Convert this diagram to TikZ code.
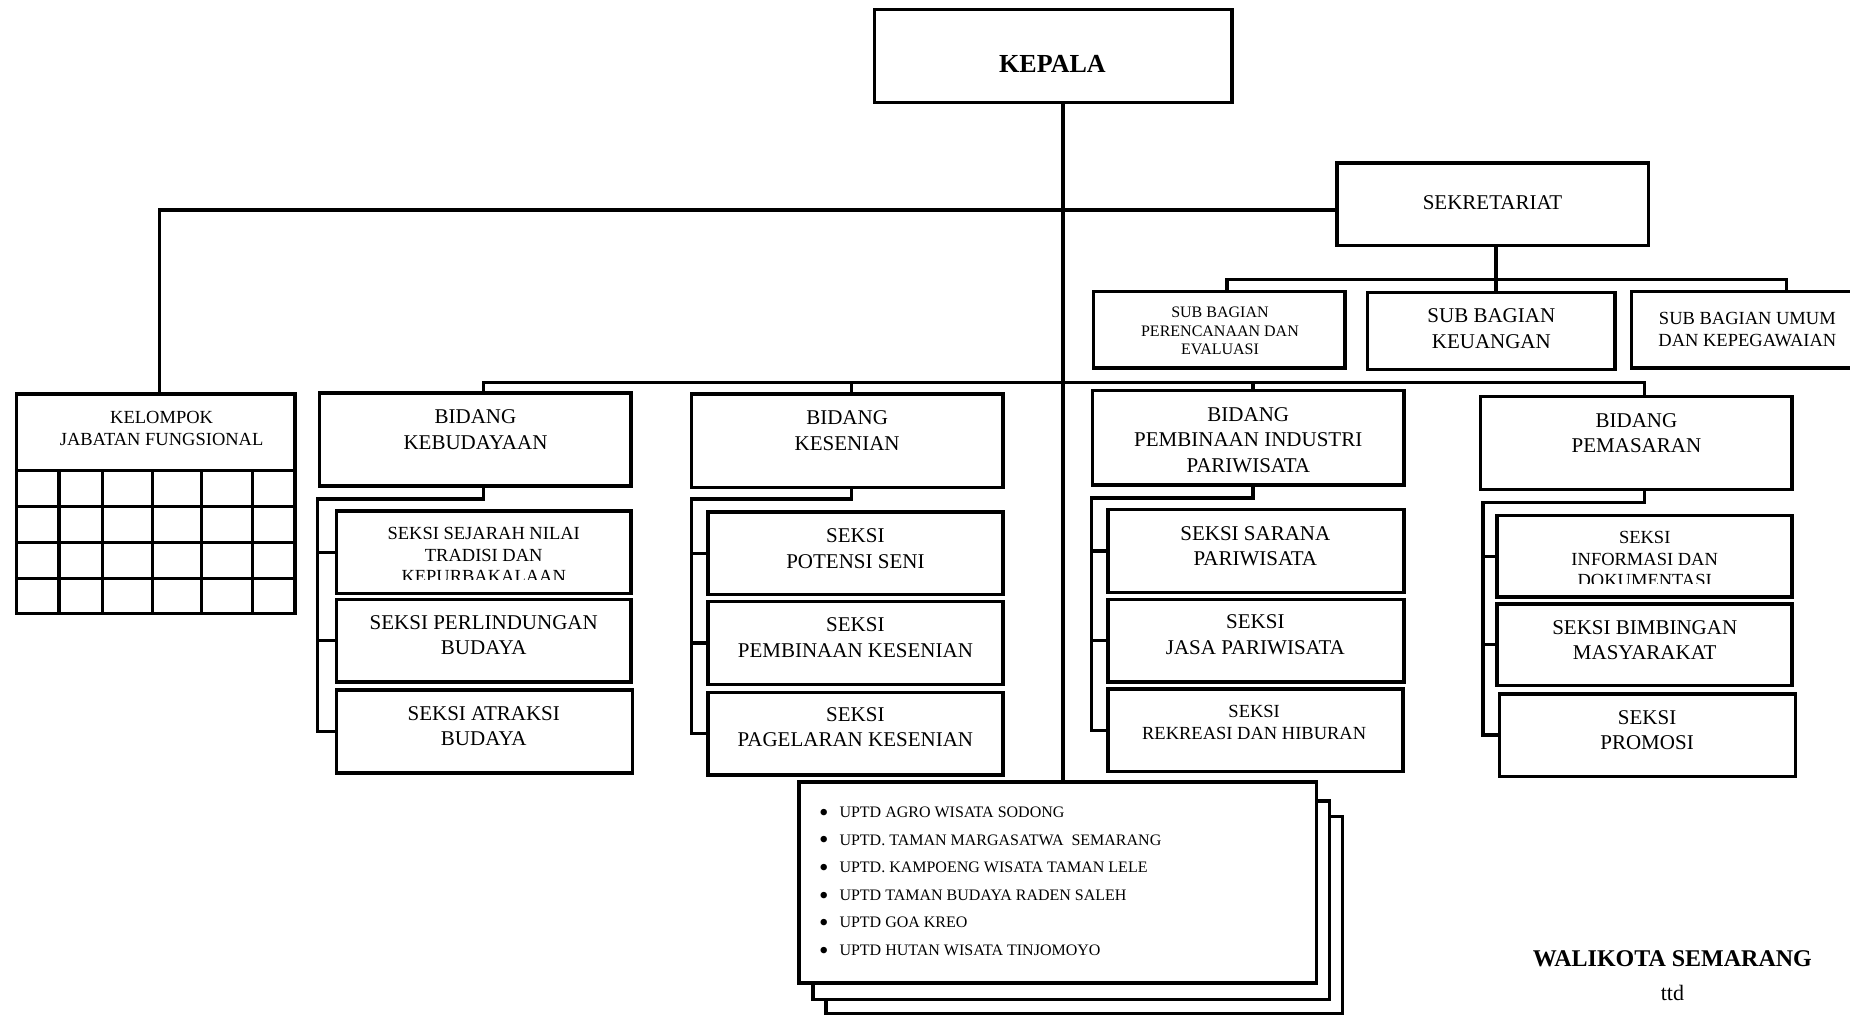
\documentclass[tikz,border=0pt]{standalone}
\usepackage{fontspec}
\setmainfont{Liberation Serif}
\usetikzlibrary{fit}
\newcommand{\ubul}{\makebox[7.4pt][c]{\raisebox{-3.7pt}{\fontsize{27}{0}\selectfont\textbullet}}\hspace{11.9pt}}
\begin{document}
\begin{tikzpicture}[x=1.1798pt,y=-1.1798pt,
  box/.style={draw, line width=3.5pt, inner sep=0pt, fill=white},
  conn/.style={draw, line width=3.2pt, line join=miter},
  gridline/.style={draw, line width=3.2pt},
  tA/.style={inner sep=0pt, align=center, font=\fontsize{21}{25.5}\selectfont},
  tB/.style={inner sep=0pt, align=center, font=\fontsize{18.5}{21.5}\selectfont},
  tC/.style={inner sep=0pt, align=center, font=\fontsize{16}{18.3}\selectfont},
  tD/.style={inner sep=0pt, align=center, font=\fontsize{18.5}{22.4}\selectfont},
]
\useasboundingbox[fill=white] (0,0) rectangle (1568,861);

% ---------- boxes ----------
\node[box, fit={(741,8) (1044,87)}] (kepala) {};
\node[box, fit={(1133,138) (1397,208)}] (sek) {};
\node[box, fit={(927,247) (1140,312)}] (sb1) {};
\node[box, fit={(1159,248) (1369,313)}] (sb2) {};
\node[box, fit={(1383,247) (1574,312)}] (sb3) {};
\node[box, fit={(14,334) (250,520)}] (kel) {};

\node[box, fit={(271,333) (535,412)}] (bk) {};
\node[box, fit={(586,334) (850,413)}] (bks) {};
\node[box, fit={(926,331) (1190,411)}] (bp) {};
\node[box, fit={(1255,336) (1519,415)}] (bm) {};

\node[box, fit={(285,433) (535,503)}] (s11) {};
\node[box, fit={(285,508) (535,578)}] (s12) {};
\node[box, fit={(285,585) (536,655)}] (s13) {};
\node[box, fit={(600,434) (850,504)}] (s21) {};
\node[box, fit={(600,510) (850,580)}] (s22) {};
\node[box, fit={(600,587) (850,657)}] (s23) {};
\node[box, fit={(939,432) (1190,502)}] (s31) {};
\node[box, fit={(939,508) (1190,578)}] (s32) {};
\node[box, fit={(939,584) (1189,654)}] (s33) {};
\node[box, fit={(1269,437) (1519,506)}] (s41) {};
\node[box, fit={(1269,512) (1519,581)}] (s42) {};
\node[box, fit={(1271,588) (1522,658)}] (s43) {};

\node[box, fit={(700,692) (1138,859)}] (uptd3) {};
\node[box, fit={(689,679) (1127,847)}] (uptd2) {};
\node[box, fit={(677,663) (1116,833)}] (uptd) {};

% ---------- grid of KELOMPOK ----------
\foreach \gx in {50,87,129,171,214} \draw[gridline] (\gx,399) -- (kel.south -| \gx,0);
\foreach \gy in {399,429,460,490} \draw[gridline] (kel.west |- 0,\gy) -- (kel.east |- 0,\gy);

% ---------- coordinates ----------
\coordinate (trunk) at (901,0);
\coordinate (hl) at (135,178);
\coordinate (sekx) at (1268,237);
\coordinate (sbl) at (1040,237);
\coordinate (sbr) at (1514,237);
\coordinate (bl) at (410,324);
\coordinate (br) at (1394,324);
\coordinate (d2) at (722,324);
\coordinate (d3) at (1062,324);
\coordinate (k1) at (269,423);
\coordinate (k2) at (586,423);
\coordinate (k3) at (925,422);
\coordinate (k4) at (1257,426);

% ---------- connectors ----------
\draw[conn] (kepala.south -| trunk) -- (uptd.north -| trunk);
\draw[conn] (kel.north -| hl) -- (hl) -- (sek.west |- hl);
\draw[conn] (sek.south -| sekx) -- (sekx);
\draw[conn] (sb1.north -| sbl) -- (sbl) -- (sbr) -- (sb3.north -| sbr);
\draw[conn] (sekx) -- (sb2.north -| sekx);
\draw[conn] (bk.north -| bl) -- (bl) -- (br) -- (bm.north -| br);
\draw[conn] (d2) -- (bks.north -| d2);
\draw[conn] (d3) -- (bp.north -| d3);

\draw[conn] (bk.south -| bl) |- (k1) |- (s13.west);
\draw[conn] (k1 |- s11.west) -- (s11.west);
\draw[conn] (k1 |- s12.west) -- (s12.west);

\draw[conn] (bks.south -| d2) |- (k2) |- (s23.west);
\draw[conn] (k2 |- s21.west) -- (s21.west);
\draw[conn] (k2 |- s22.west) -- (s22.west);

\draw[conn] (bp.south -| d3) |- (k3) |- (s33.west);
\draw[conn] (k3 |- s31.west) -- (s31.west);
\draw[conn] (k3 |- s32.west) -- (s32.west);

\draw[conn] (bm.south -| br) |- (k4) |- (s43.west);
\draw[conn] (k4 |- s41.west) -- (s41.west);
\draw[conn] (k4 |- s42.west) -- (s42.west);

% ---------- texts ----------
\node[inner sep=0pt, font=\bfseries\fontsize{26}{30}\selectfont] (kepala-t) at (892,54) {KEPALA};
\node[tA] (sek-t) at (1265,172) {SEKRETARIAT};
\node[tC] (sb1-t) at (1034,280.5) {SUB BAGIAN\\PERENCANAAN DAN\\EVALUASI};
\node[tA] (sb2-t) at (1264,278.5) {SUB BAGIAN\\KEUANGAN};
\node[tD] (sb3-t) at (1481,279.5) {SUB BAGIAN UMUM\\DAN KEPEGAWAIAN};
\node[tB] (kel-t) at (137,363) {KELOMPOK\\JABATAN FUNGSIONAL};

\node[tA] (bk-t) at (403,364) {BIDANG\\KEBUDAYAAN};
\node[tA] (bks-t) at (718,365) {BIDANG\\KESENIAN};
\node[tA] (bp-t) at (1058,373) {BIDANG\\PEMBINAAN INDUSTRI\\PARIWISATA};
\node[tA] (bm-t) at (1387,367) {BIDANG\\PEMASARAN};

\begin{scope}
  \clip (287,436) rectangle (533,491.5);
  \node[tB] (s11-t) at (410,470.5) {SEKSI SEJARAH NILAI\\TRADISI DAN\\KEPURBAKALAAN};
\end{scope}
\node[tA] (s12-t) at (410,538.5) {SEKSI PERLINDUNGAN\\BUDAYA};
\node[tA] (s13-t) at (410,615.5) {SEKSI ATRAKSI\\BUDAYA};

\node[tA] (s21-t) at (725,465) {SEKSI\\POTENSI SENI};
\node[tA] (s22-t) at (725,540.5) {SEKSI\\PEMBINAAN KESENIAN};
\node[tA] (s23-t) at (725,616.5) {SEKSI\\PAGELARAN KESENIAN};

\node[tA] (s31-t) at (1064,463) {SEKSI SARANA\\PARIWISATA};
\node[tA] (s32-t) at (1064,538) {SEKSI\\JASA PARIWISATA};
\node[tD] (s33-t) at (1063,612.5) {SEKSI\\REKREASI DAN HIBURAN};

\begin{scope}
  \clip (1271,440) rectangle (1517,494.5);
  \node[tB] (s41-t) at (1394,474) {SEKSI\\INFORMASI DAN\\DOKUMENTASI};
\end{scope}
\node[tA] (s42-t) at (1394,542.5) {SEKSI BIMBINGAN\\MASYARAKAT};
\node[tA] (s43-t) at (1396,619) {SEKSI\\PROMOSI};

\node[anchor=west, inner sep=0pt, align=left, font=\fontsize{16}{27.6}\selectfont] (uptd-t) at (695,748.5)
 {\ubul UPTD AGRO WISATA SODONG\\
  \ubul UPTD. TAMAN MARGASATWA\ \ SEMARANG\\
  \ubul UPTD. KAMPOENG WISATA TAMAN LELE\\
  \ubul UPTD TAMAN BUDAYA RADEN SALEH\\
  \ubul UPTD GOA KREO\\
  \ubul UPTD HUTAN WISATA TINJOMOYO};

\node[inner sep=0pt, font=\bfseries\fontsize{24}{28}\selectfont] (wali) at (1417.5,813) {WALIKOTA SEMARANG};
\node[inner sep=0pt, font=\fontsize{22}{26}\selectfont] (ttd) at (1417.5,842) {ttd};
\end{tikzpicture}
\end{document}
